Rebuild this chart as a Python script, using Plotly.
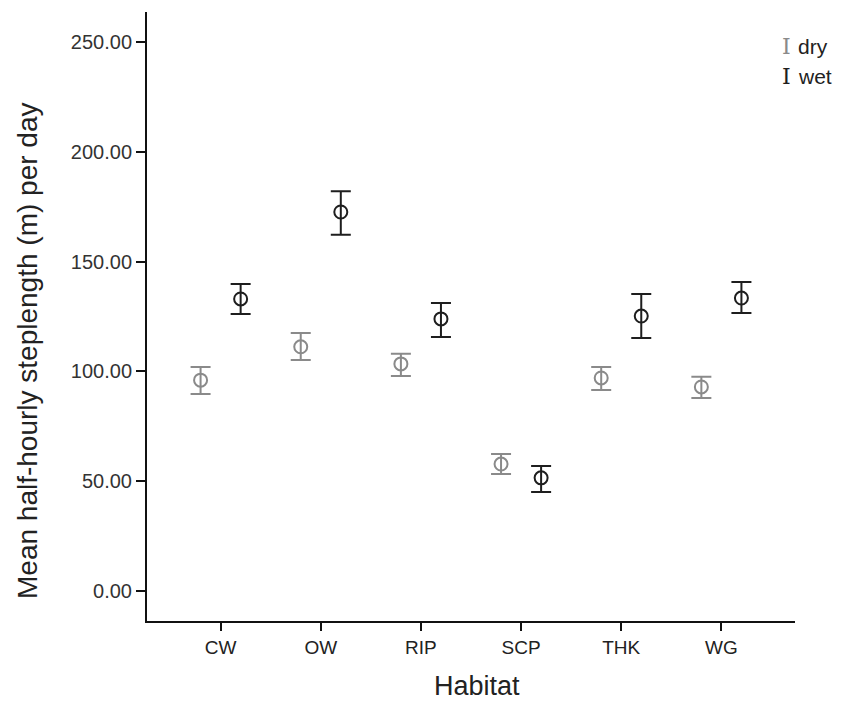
import plotly.graph_objects as go

categories = ["CW", "OW", "RIP", "SCP", "THK", "WG"]
dry_mean = [96.0, 111.2, 103.4, 57.8, 97.0, 92.9]
dry_upper = [102.0, 117.5, 108.0, 62.4, 102.0, 97.5]
dry_lower = [89.7, 105.2, 97.9, 53.3, 91.5, 87.9]
wet_mean = [133.0, 172.6, 123.9, 51.5, 125.2, 133.4]
wet_upper = [139.8, 182.1, 131.1, 56.9, 135.2, 140.7]
wet_lower = [126.1, 162.2, 115.7, 45.1, 115.2, 126.6]
y_ticks = [0, 50, 100, 150, 200, 250]

DRY_COL = "#8a8a8a"
WET_COL = "#1e1e1e"
offset = 0.2

def add_series(mean, upper, lower, shift, color, name):
    xs = [i + shift for i in range(len(categories))]
    fig.add_trace(go.Scatter(
        x=xs, y=mean, mode="markers", name=name, showlegend=False,
        marker=dict(symbol="circle-open", size=13, color=color, line=dict(width=2, color=color)),
        error_y=dict(type="data", symmetric=False,
                     array=[u - m for u, m in zip(upper, mean)],
                     arrayminus=[m - l for m, l in zip(mean, lower)],
                     color=color, thickness=2, width=10),
    ))

fig = go.Figure()
add_series(dry_mean, dry_upper, dry_lower, -offset, DRY_COL, "dry")
add_series(wet_mean, wet_upper, wet_lower, offset, WET_COL, "wet")

# page body has an 8px margin, so the figure is sized/offset to compensate
fig.update_layout(
    width=831, height=692,
    margin=dict(l=139, r=44, t=4, b=79),
    paper_bgcolor="white", plot_bgcolor="white",
    font=dict(family="Liberation Sans, Arial, sans-serif", color="#333333"),
    xaxis=dict(
        range=[-0.735, 5.735], tickmode="array",
        tickvals=list(range(len(categories))), ticktext=categories,
        showgrid=False, zeroline=False, showline=True, linecolor="#111111", linewidth=2,
        ticks="outside", ticklen=8, tickwidth=2, tickcolor="#111111",
        tickfont=dict(size=19, color="#222222"),
    ),
    yaxis=dict(
        range=[-13.7, 263.7], tickmode="array", tickvals=y_ticks,
        ticktext=[f"{v:.2f}" for v in y_ticks],
        showgrid=False, zeroline=False, showline=True, linecolor="#111111", linewidth=2,
        ticks="outside", ticklen=9, tickwidth=2, tickcolor="#111111",
        tickfont=dict(size=20, color="#333333"),
    ),
)

def px(xp):
    return (xp - 147) / 648

def py(yp):
    return 1 - (yp - 12) / 609

# axis titles
fig.add_annotation(xref="paper", yref="paper", x=px(477), y=py(686), text="Habitat",
                   showarrow=False, xanchor="center", yanchor="middle", borderpad=0,
                   font=dict(size=27, color="#222222"))
fig.add_annotation(xref="paper", yref="paper", x=px(27), y=py(351),
                   text="Mean half-hourly steplength (m) per day", textangle=-90,
                   showarrow=False, xanchor="center", yanchor="middle",
                   font=dict(size=28, color="#222222"))

# legend
for yy, name, col in [(46, "dry", DRY_COL), (77, "wet", WET_COL)]:
    fig.add_annotation(xref="paper", yref="paper", x=px(786), y=py(yy),
                       text="I", showarrow=False, xanchor="center", yanchor="middle",
                       font=dict(family="DejaVu Serif", size=22, color=col))
    fig.add_annotation(xref="paper", yref="paper", x=px(796), y=py(yy),
                       text=name, showarrow=False, xanchor="left", yanchor="middle",
                       font=dict(size=21, color="#222222"))

fig.write_html("out.html")
